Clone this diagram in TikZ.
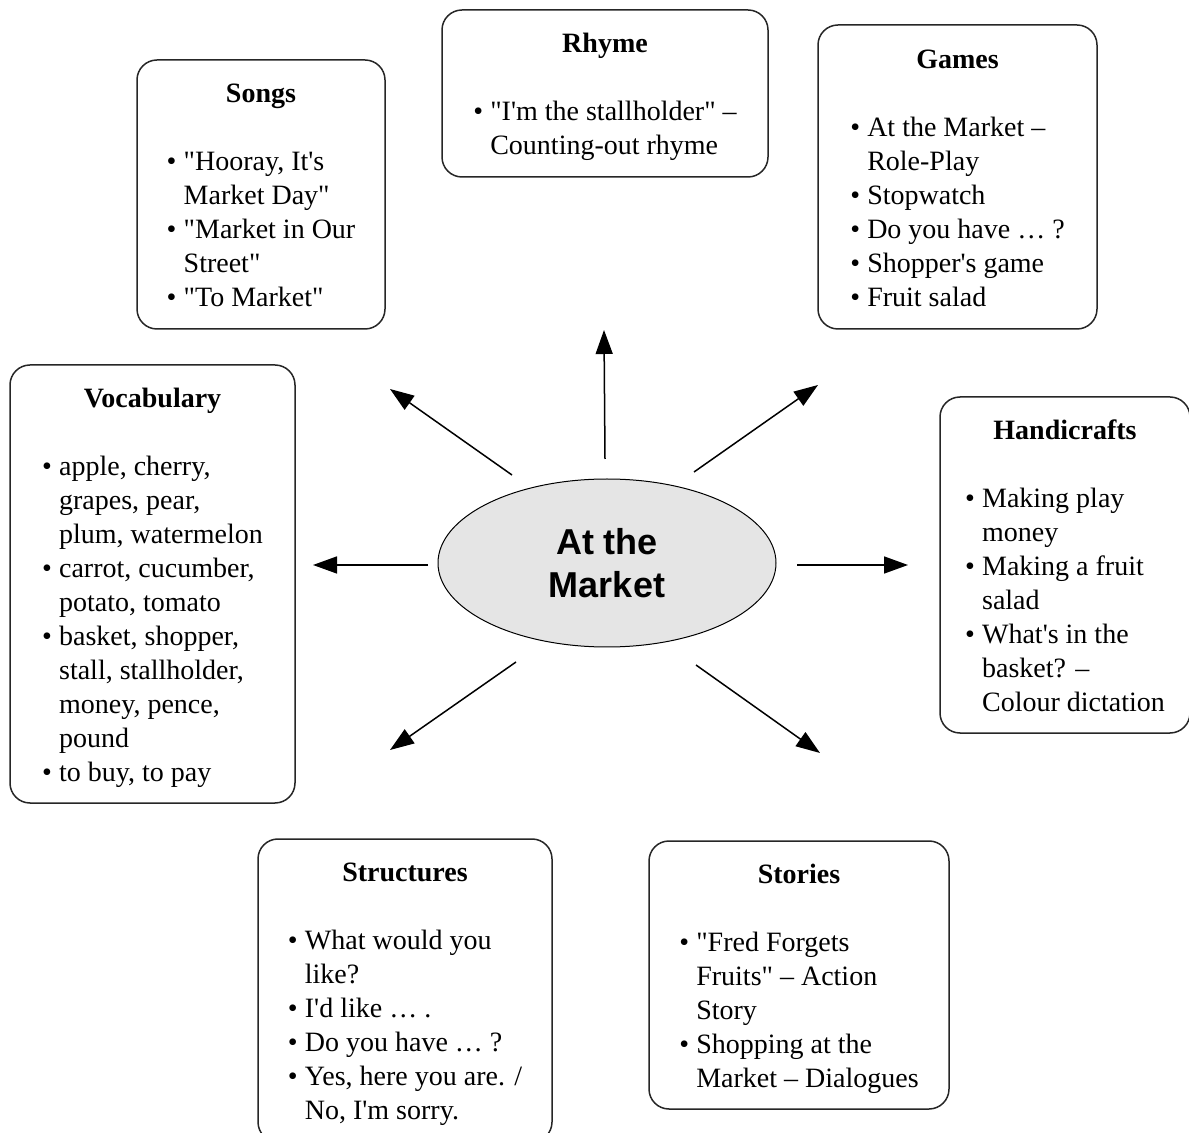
\documentclass[tikz,border=0pt]{standalone}
\usepackage{fontspec}
\setmainfont{Liberation Serif}
\newfontfamily\hubfont{Liberation Sans}
\usepackage{tikz}
\usetikzlibrary{arrows.meta, shapes.geometric}

\newcommand{\qq}{\textquotedbl}
\newcommand{\ap}{\textquotesingle}
\newcommand{\topicbox}[2]{%
  \begin{tabular}{@{}l@{\hspace{3.6pt}}l@{}}
    \multicolumn{2}{c}{\rule{0pt}{15.4pt}\textbf{#1}} \\
    & \\
    #2
  \end{tabular}}

\begin{document}
\begin{tikzpicture}[
    x=0.5pt, y=-0.5pt,
    every node/.style={font=\fontsize{14}{17}\selectfont},
    topic_box/.style={rectangle, draw=black!85, line width=0.75pt, rounded corners=10pt,
                      inner sep=0pt, align=left},
    hub_style/.style={ellipse, draw=black, line width=0.5pt, fill=black!10,
                      minimum width=169pt, minimum height=84pt, inner sep=0pt, align=center,
                      font=\hubfont\bfseries\fontsize{18}{21.5}\selectfont},
    arrow_style/.style={-{Triangle[length=12pt, width=8.5pt]}, line width=0.75pt, black}
  ]

    \path[use as bounding box, fill=white] (0,0) rectangle (1189,1133);

    \node[hub_style] (hub) at (607,563) {At the\\Market};

    \node[topic_box, minimum width=124pt, minimum height=134.5pt] (songs) at (261,194.5) {\topicbox{Songs}{%
      \textbullet & \qq Hooray, It\ap s \\
                  & Market Day\qq \\
      \textbullet & \qq Market in Our \\
                  & Street\qq \\
      \textbullet & \qq To Market\qq \\}};

    \node[topic_box, minimum width=163pt, minimum height=83.5pt] (rhyme) at (605,93.5) {\topicbox{Rhyme}{%
      \textbullet & \qq I\ap m the stallholder\qq\ -- \\
                  & Counting-out rhyme \\}};

    \node[topic_box, minimum width=139.5pt, minimum height=152pt] (games) at (957.5,177) {\topicbox{Games}{%
      \textbullet & At the Market -- \\
                  & Role-Play \\
      \textbullet & Stopwatch \\
      \textbullet & Do you have \dots\ ? \\
      \textbullet & Shopper\ap s game \\
      \textbullet & Fruit salad \\}};

    \node[topic_box, minimum width=142.5pt, minimum height=219pt] (vocab) at (152.5,584) {\topicbox{Vocabulary}{%
      \textbullet & apple, cherry, \\
                  & grapes, pear, \\
                  & plum, watermelon \\
      \textbullet & carrot, cucumber, \\
                  & potato, tomato \\
      \textbullet & basket, shopper, \\
                  & stall, stallholder, \\
                  & money, pence, \\
                  & pound \\
      \textbullet & to buy, to pay \\}};

    \node[topic_box, minimum width=125pt, minimum height=168pt] (crafts) at (1065,565) {\topicbox{Handicrafts}{%
      \textbullet & Making play \\
                  & money \\
      \textbullet & Making a fruit \\
                  & salad \\
      \textbullet & What\ap s in the \\
                  & basket? -- \\
                  & Colour dictation \\}};

    \node[topic_box, minimum width=147pt, minimum height=151.5pt] (structures) at (405,990.5) {\topicbox{Structures}{%
      \textbullet & What would you \\
                  & like? \\
      \textbullet & I\ap d like \dots\ . \\
      \textbullet & Do you have \dots\ ? \\
      \textbullet & Yes, here you are. / \\
                  & No, I\ap m sorry. \\}};

    \node[topic_box, minimum width=150pt, minimum height=134pt] (stories) at (799,975) {\topicbox{Stories}{%
      \textbullet & \qq Fred Forgets \\
                  & Fruits\qq\ -- Action \\
                  & Story \\
      \textbullet & Shopping at the \\
                  & Market -- Dialogues \\}};

    % arrow ends
    \coordinate (up_from) at (605,459);   \coordinate (up_to) at (604,330);
    \coordinate (ul_from) at (512,475);   \coordinate (ul_to) at (390,389);
    \coordinate (ur_from) at (694,472);   \coordinate (ur_to) at (818,385);
    \coordinate (l_from) at (428,565);    \coordinate (l_to) at (313,565);
    \coordinate (r_from) at (797,565);    \coordinate (r_to) at (908,565);
    \coordinate (ll_from) at (516,662);   \coordinate (ll_to) at (390,750);
    \coordinate (lr_from) at (696,665);   \coordinate (lr_to) at (820,753);

    \foreach \a in {up, ul, ur, l, r, ll, lr}
      \draw[arrow_style] (\a_from) -- (\a_to);

\end{tikzpicture}
\end{document}
